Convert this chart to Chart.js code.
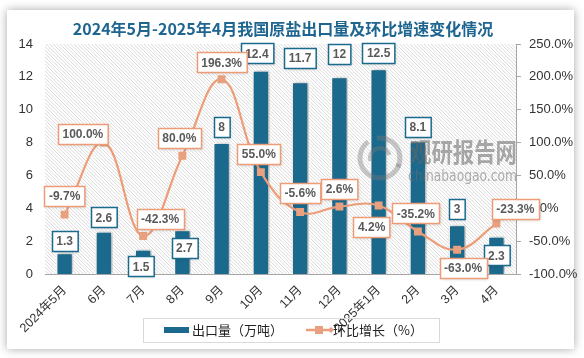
<!DOCTYPE html>
<html><head><meta charset="utf-8">
<script src="https://cdn.jsdelivr.net/npm/chart.js@4/dist/chart.umd.min.js"></script>
<style>
html,body{margin:0;padding:0;background:#fff;width:584px;height:358px;overflow:hidden}
#card{position:absolute;left:7px;top:10px;width:567px;height:339px;background:#fff;box-shadow:0 0 9px rgba(0,0,0,0.35)}
#wrap{position:absolute;left:0;top:0;width:584px;height:358px}
</style></head>
<body>
<div id="card"></div>
<div id="wrap"><canvas id="c" width="584" height="358"></canvas></div>
<script>
const titleText = '2024年5月-2025年4月我国原盐出口量及环比增速变化情况';
const categories = ['2024年5月','6月','7月','8月','9月','10月','11月','12月','2025年1月','2月','3月','4月'];
const exportVolume = [1.3, 2.6, 1.5, 2.7, 8, 12.4, 11.7, 12, 12.5, 8.1, 3, 2.3];
const momGrowth = [-9.7, 100.0, -42.3, 80.0, 196.3, 55.0, -5.6, 2.6, 4.2, -35.2, -63.0, -23.3];
const seriesNames = ['出口量（万吨）', '环比增长（%）'];
const leftTicks = {min: 0, max: 14, step: 2};
const rightTicks = {min: -100, max: 250, step: 50};

// label placement offsets (style only) relative to bar top / point
const barLabelOffset = [[0,-12],[0,-14],[-2,17],[2,18],[0,-16],[-4,-17],[0,-24],[0,-23],[0,-16],[0,-14],[0,-16],[0,19]];
const lineLabelOffset = [[0,-19],[-21,-9],[17,-17],[-3,-18],[0,-17],[-2,-18],[0,-19],[0,-18],[-7,21],[-2,-18],[6,18],[19,-15]];

const BLUE = '#1B6A8E';
const ORANGE = '#EC9C77';
const MARK = '#E8A07F';

function fmtPct(v){ return v.toFixed(1) + '%'; }

const deco = {
  id: 'deco',
  beforeDatasetsDraw(chart){
    const {ctx, chartArea: a} = chart;
    ctx.save();
    ctx.beginPath(); ctx.rect(a.left, a.top, a.right - a.left, a.bottom - a.top); ctx.clip();
    ctx.strokeStyle = '#d2d2d2'; ctx.lineWidth = 0.8;
    const h = a.bottom - a.top;
    ctx.beginPath();
    for (let k = -h; k < a.right - a.left + 4; k += 3.5) {
      ctx.moveTo(a.left + k, a.top); ctx.lineTo(a.left + k + h, a.bottom);
    }
    ctx.stroke();
    ctx.restore();
  },
  beforeDatasetDraw(chart, args){
    if (args.index === 0) {
      const ctx = chart.ctx; ctx.save();
      ctx.shadowColor = 'rgba(0,0,0,0.35)'; ctx.shadowBlur = 4; ctx.shadowOffsetX = 1.5; ctx.shadowOffsetY = 0;
    }
  },
  afterDatasetDraw(chart, args){
    if (args.index === 0) chart.ctx.restore();
  },
  afterDatasetsDraw(chart){
    const ctx = chart.ctx;
    // watermark
    ctx.save();
    ctx.strokeStyle = 'rgba(120,120,120,0.4)'; ctx.lineWidth = 5;
    ctx.beginPath(); ctx.arc(380, 158, 20, 0.3, Math.PI*1.3); ctx.stroke();
    ctx.beginPath(); ctx.arc(380, 158, 20, Math.PI*1.45, Math.PI*2.15); ctx.stroke();
    ctx.lineWidth = 4;
    ctx.beginPath(); ctx.arc(380, 158, 10, Math.PI*0.9, Math.PI*1.9); ctx.stroke();
    ctx.fillStyle = 'rgba(100,100,100,0.55)';
    ctx.font = 'bold 26px "Noto Sans CJK SC"'; ctx.textBaseline = 'middle'; ctx.textAlign = 'left';
    ctx.fillText('观研报告网', 410, 152, 107);
    ctx.fillStyle = 'rgba(110,110,110,0.55)';
    ctx.font = '16px "DejaVu Sans"';
    ctx.fillText('chinabaogao.com', 408, 177, 109);
    ctx.restore();

    // data labels
    const drawBox = (text, cx, cy, border) => {
      ctx.save();
      ctx.font = 'bold 12px "Liberation Sans", Arial';
      const tw = ctx.measureText(text).width;
      const w = tw + 9, h = 20;
      const x = Math.round(cx - w/2) + 0.5, y = Math.round(cy - h/2) + 0.5;
      ctx.shadowColor = 'rgba(0,0,0,0.18)'; ctx.shadowBlur = 3; ctx.shadowOffsetX = 1; ctx.shadowOffsetY = 1;
      ctx.fillStyle = '#fff'; ctx.fillRect(x, y, w, h);
      ctx.shadowColor = 'transparent';
      ctx.strokeStyle = border; ctx.lineWidth = 1.5; ctx.strokeRect(x, y, w, h);
      ctx.fillStyle = '#595959'; ctx.textAlign = 'center'; ctx.textBaseline = 'middle';
      ctx.fillText(text, cx, cy + 1);
      ctx.restore();
    };
    const m0 = chart.getDatasetMeta(0), m1 = chart.getDatasetMeta(1);
    m0.data.forEach((el, i) => {
      const o = barLabelOffset[i];
      drawBox(String(exportVolume[i]), el.x + o[0], el.y + o[1], BLUE);
    });
    m1.data.forEach((el, i) => {
      const o = lineLabelOffset[i];
      drawBox(fmtPct(momGrowth[i]), el.x + o[0], el.y + o[1], ORANGE);
    });
  },
  afterDraw(chart){
    const ctx = chart.ctx;
    ctx.save();
    // title
    ctx.font = 'bold 16px "Noto Sans CJK SC"';
    ctx.fillStyle = '#1E6590'; ctx.textAlign = 'center'; ctx.textBaseline = 'middle';
    ctx.fillText(titleText, 283, 29);
    // legend
    ctx.strokeStyle = '#d9d9d9'; ctx.lineWidth = 1;
    ctx.strokeRect(143.5, 318.5, 296, 24);
    ctx.fillStyle = BLUE; ctx.fillRect(164, 327, 25, 6);
    ctx.font = '13px "Noto Sans CJK SC"'; ctx.fillStyle = '#222'; ctx.textAlign = 'left';
    ctx.fillText(chart.data.datasets[0].label, 192, 330);
    ctx.strokeStyle = ORANGE; ctx.lineWidth = 2.5;
    ctx.beginPath(); ctx.moveTo(306, 330); ctx.lineTo(332, 330); ctx.stroke();
    ctx.fillStyle = MARK; ctx.fillRect(315, 326, 8, 8);
    ctx.beginPath(); ctx.moveTo(331,327); ctx.lineTo(334,330); ctx.lineTo(331,333); ctx.lineTo(328,330); ctx.closePath(); ctx.fill();
    ctx.fillStyle = '#222';
    ctx.fillText(chart.data.datasets[1].label, 333, 330);
    ctx.restore();
  }
};

const tickFont = {family: '"Liberation Sans", Arial, "Noto Sans CJK SC"', size: 12};

new Chart(document.getElementById('c'), {
  type: 'bar',
  data: {
    labels: categories,
    datasets: [
      {label: seriesNames[0], data: exportVolume, yAxisID: 'y', backgroundColor: BLUE,
       borderColor: '#fff', borderWidth: 1.5, categoryPercentage: 1, barPercentage: 0.44, order: 2},
      {label: seriesNames[1], data: momGrowth, type: 'line', yAxisID: 'y1', borderColor: ORANGE,
       borderWidth: 2.2, tension: 0.4, pointStyle: 'rect', pointRadius: 5.6, pointBackgroundColor: MARK,
       pointBorderWidth: 0, pointBorderColor: MARK, fill: false, order: 1}
    ]
  },
  options: {
    responsive: false, animation: false,
    layout: {padding: {top: 44, left: 0, right: 0, bottom: 0}},
    plugins: {legend: {display: false}, title: {display: false}, tooltip: {enabled: false}},
    scales: {
      x: {
        offset: true,
        grid: {display: false, drawTicks: false},
        border: {display: true, color: '#a6a6a6', width: 1},
        ticks: {autoSkip: false, maxRotation: 45, minRotation: 45, color: '#333', font: {family: tickFont.family, size: 12.5}, padding: 9},
        afterFit(s){ s.height = 84; }
      },
      y: {
        position: 'left', min: leftTicks.min, max: leftTicks.max,
        ticks: {stepSize: leftTicks.step, color: '#333', font: {family: tickFont.family, size: 13}, padding: 12},
        grid: {display: false, drawTicks: false},
        border: {display: false},
        afterFit(s){ s.width = 45; }
      },
      y1: {
        position: 'right', min: rightTicks.min, max: rightTicks.max,
        ticks: {stepSize: rightTicks.step, color: '#333', font: {family: tickFont.family, size: 13}, padding: 8,
                callback: v => fmtPct(v)},
        grid: {drawOnChartArea: false, drawTicks: true, tickLength: 5, color: '#a6a6a6'},
        border: {display: true, color: '#a6a6a6'},
        afterFit(s){ s.width = 68; }
      }
    }
  },
  plugins: [deco]
});
</script>
</body></html>
